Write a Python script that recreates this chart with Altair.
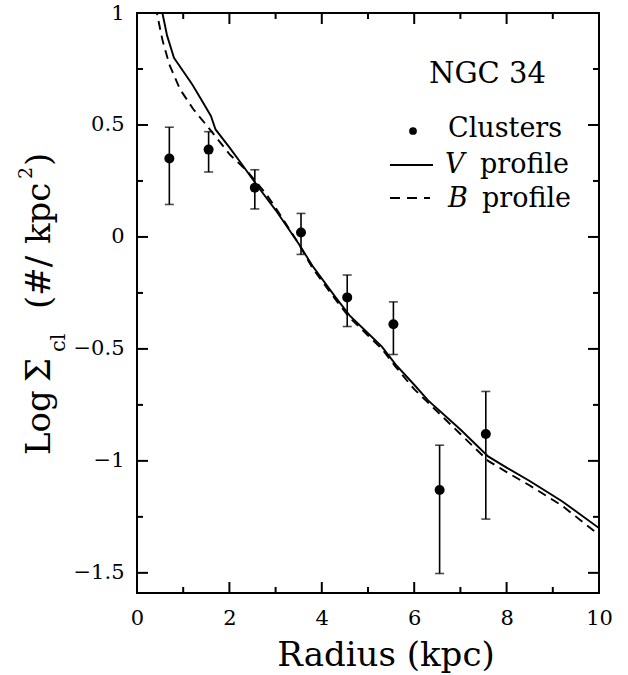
import altair as alt
import pandas as pd

# Cluster surface density, NGC 34
radius_cl = [0.7, 1.55, 2.55, 3.55, 4.55, 5.55, 6.55, 7.55]
logsig_cl = [0.35, 0.39, 0.22, 0.02, -0.27, -0.39, -1.13, -0.88]
err_hi = [0.49, 0.47, 0.30, 0.105, -0.17, -0.29, -0.93, -0.69]
err_lo = [0.145, 0.29, 0.125, -0.078, -0.40, -0.525, -1.503, -1.26]

# Scaled surface brightness profiles
v_radius = [0.50, 0.55, 0.65, 0.80, 1.00, 1.20, 1.40, 1.60, 1.70, 2.00, 2.25, 2.60, 3.00,
            3.50, 3.80, 4.30, 4.60, 5.00, 5.30, 5.60, 6.00, 6.30, 7.00, 7.60, 8.00, 8.50,
            9.20, 10.0]
v_logsig = [1.04, 1.00, 0.90, 0.80, 0.74, 0.68, 0.61, 0.54, 0.48, 0.40, 0.33, 0.23, 0.12,
            -0.03, -0.13, -0.27, -0.35, -0.43, -0.49, -0.57, -0.66, -0.73, -0.86, -0.98,
            -1.03, -1.09, -1.18, -1.30]
b_radius = [0.40, 0.43, 0.55, 0.70, 0.93, 1.22, 1.50, 2.00, 2.40, 2.80, 3.00, 3.50, 3.80,
            4.30, 4.60, 5.00, 5.30, 5.60, 6.00, 6.30, 7.00, 7.60, 8.00, 8.50, 9.20, 10.0]
b_logsig = [1.03, 1.00, 0.88, 0.77, 0.66, 0.57, 0.50, 0.37, 0.29, 0.19, 0.13, -0.03, -0.14,
            -0.28, -0.36, -0.44, -0.50, -0.58, -0.68, -0.74, -0.88, -1.00, -1.05, -1.11,
            -1.20, -1.33]

x_major = [0, 2, 4, 6, 8, 10]
x_minor = [1, 3, 5, 7, 9]
y_major = [-1.5, -1, -0.5, 0, 0.5, 1]
y_minor = [-1.25, -0.75, -0.25, 0.25, 0.75]

W, H = 462, 580
SERIF = "DejaVu Serif"
MAJ, MIN = 11, 6

xs = alt.Scale(domain=[0, 10], nice=False, zero=False)
ys = alt.Scale(domain=[-1.59, 1.0], nice=False, zero=False)
x_axis = alt.Axis(values=x_major, ticks=False, domain=False, grid=False, labelFont=SERIF,
                  labelFontSize=21, labelColor="black", labelPadding=14, labelFlush=False,
                  labelOverlap=False, format="~r", title=None)
y_axis = alt.Axis(values=y_major, ticks=False, domain=False, grid=False, labelFont=SERIF,
                  labelFontSize=21, labelColor="black", labelPadding=13, labelFlush=False,
                  labelOverlap=False, format="~r", title=None)


def X(field):
    return alt.X(field, type="quantitative", scale=xs, axis=x_axis)


def Y(field):
    return alt.Y(field, type="quantitative", scale=ys, axis=y_axis)


clusters = pd.DataFrame({"r": radius_cl, "s": logsig_cl, "hi": err_hi, "lo": err_lo})
vprof = pd.DataFrame({"r": v_radius, "s": v_logsig})
bprof = pd.DataFrame({"r": b_radius, "s": b_logsig})

layers = []

# inward tick marks on all four sides
for vals, ln in ((x_major, MAJ), (x_minor, MIN)):
    d = pd.DataFrame({"t": vals})
    layers.append(alt.Chart(d).mark_rule(color="black", strokeWidth=2).encode(
        x=X("t"), y=alt.value(H), y2=alt.value(H - ln)))
    layers.append(alt.Chart(d).mark_rule(color="black", strokeWidth=2).encode(
        x=X("t"), y=alt.value(0), y2=alt.value(ln)))
for vals, ln in ((y_major, MAJ), (y_minor, MIN)):
    d = pd.DataFrame({"t": vals})
    layers.append(alt.Chart(d).mark_rule(color="black", strokeWidth=2).encode(
        y=Y("t"), x=alt.value(0), x2=alt.value(ln)))
    layers.append(alt.Chart(d).mark_rule(color="black", strokeWidth=2).encode(
        y=Y("t"), x=alt.value(W - ln), x2=alt.value(W)))

# profiles
layers.append(alt.Chart(vprof).mark_line(color="black", strokeWidth=1.9, clip=True).encode(
    x=X("r"), y=Y("s"), order="r:Q"))
layers.append(alt.Chart(bprof).mark_line(color="black", strokeWidth=1.9, clip=True,
                                         strokeDash=[9, 6]).encode(
    x=X("r"), y=Y("s"), order="r:Q"))

# clusters with error bars
layers.append(alt.Chart(clusters).mark_rule(color="black", strokeWidth=1.6).encode(
    x=X("r"), y=Y("lo"), y2="hi"))
layers.append(alt.Chart(clusters).mark_tick(color="black", orient="horizontal", size=9,
                                            thickness=1.6).encode(x=X("r"), y=Y("hi")))
layers.append(alt.Chart(clusters).mark_tick(color="black", orient="horizontal", size=9,
                                            thickness=1.6).encode(x=X("r"), y=Y("lo")))
layers.append(alt.Chart(clusters).mark_point(filled=True, color="black", opacity=1,
                                             size=100, shape="circle").encode(
    x=X("r"), y=Y("s")))

one = alt.Data(values=[{}])


def label(text, x, y, size, angle=0, style="normal", align="left"):
    return alt.Chart(one).mark_text(font=SERIF, fontSize=size, fontStyle=style,
                                    align=align, baseline="alphabetic", angle=angle,
                                    color="black").encode(
        x=alt.value(x), y=alt.value(y), text=alt.value(text))


# key
layers.append(label("NGC 34", 292, 70, 29))
layers.append(alt.Chart(one).mark_point(filled=True, color="black", opacity=1, size=60,
                                        shape="circle").encode(
    x=alt.value(276), y=alt.value(118)))
layers.append(label("Clusters", 311, 124, 27))
layers.append(alt.Chart(one).mark_rule(color="black", strokeWidth=1.8).encode(
    x=alt.value(253), x2=alt.value(296), y=alt.value(152)))
layers.append(label("V", 308, 160, 27, style="italic"))
layers.append(label("profile", 343, 160, 27))
layers.append(alt.Chart(one).mark_rule(color="black", strokeWidth=1.8,
                                       strokeDash=[10, 7]).encode(
    x=alt.value(253), x2=alt.value(293), y=alt.value(185)))
layers.append(label("B", 311, 194, 27, style="italic"))
layers.append(label("profile", 345, 194, 27))

# axis titles
layers.append(label("Radius (kpc)", 249, 653, 34, align="center"))
layers.append(label("Log", -87, 442, 34, angle=270))
layers.append(label("Σ", -87, 369, 34, angle=270))
layers.append(label("cl", -72, 339, 21, angle=270))
layers.append(label("(#/", -87, 296, 34, angle=270))
layers.append(label("kpc", -87, 231, 34, angle=270))
layers.append(label("2", -105, 166, 19, angle=270))
layers.append(label(")", -87, 153, 34, angle=270))

chart = alt.layer(*layers).properties(
    width=W, height=H,
    autosize=alt.AutoSizeParams(type="none"),
    padding={"left": 137, "top": 13, "right": 29, "bottom": 82},
    background="white",
).configure_view(stroke="black", strokeWidth=2)

chart.save("out.html", embed_options={"renderer": "svg", "actions": False})
